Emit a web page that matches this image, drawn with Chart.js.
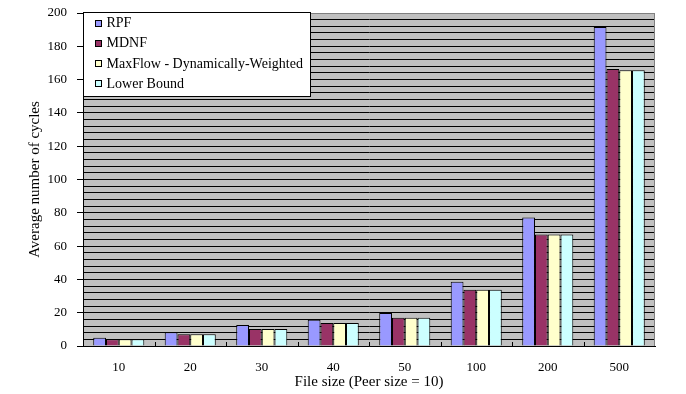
<!DOCTYPE html>
<html>
<head>
<meta charset="utf-8">
<title>Average number of cycles by file size</title>
<script src="https://cdn.jsdelivr.net/npm/chart.js@4/dist/chart.umd.min.js"></script>
<style>
  html, body { margin: 0; padding: 0; background: #ffffff; }
  #wrap { width: 686px; height: 394px; position: relative; }
</style>
</head>
<body>
<div id="wrap"><canvas id="chart" width="686" height="394"></canvas></div>
<script>
// File sizes on the category axis
const fileSizes = ['10', '20', '30', '40', '50', '100', '200', '500'];

// Average number of cycles per algorithm
const rpf        = [5.0, 8.2, 12.6, 15.8, 19.8, 38.6, 77.2, 191.6];
const mdnf       = [4.0, 7.0, 10.2, 13.8, 17.0, 33.8, 67.0, 166.4];
const maxFlowDW  = [4.0, 7.0, 10.2, 13.8, 17.0, 33.8, 67.0, 165.6];
const lowerBound = [4.0, 7.0, 10.2, 13.8, 17.0, 33.8, 67.0, 165.6];

const seriesNames = ['RPF', 'MDNF', 'MaxFlow - Dynamically-Weighted', 'Lower Bound'];
const seriesColors = ['#9999FF', '#993366', '#FFFFCC', '#CCFFFF'];

const yMin = 0, yMax = 200, yGridStep = 4, yLabelStep = 20;

const FONT = 'Liberation Serif, Times New Roman, serif';
Chart.defaults.font.family = FONT;
Chart.defaults.font.size = 13;
Chart.defaults.color = '#000000';

// Gray plot background and outer frame
const plotBackground = {
  id: 'plotBackground',
  beforeDraw(chart) {
    const { ctx, chartArea: a } = chart;
    ctx.save();
    ctx.fillStyle = '#C0C0C0';
    ctx.fillRect(a.left, a.top, a.right - a.left, a.bottom - a.top);
    ctx.restore();
  },
  afterDraw(chart) {
    const { ctx, chartArea: a } = chart;
    ctx.save();
    ctx.strokeStyle = '#808080';
    ctx.lineWidth = 1;
    ctx.beginPath();
    ctx.moveTo(Math.round(a.left) + 0.5, Math.round(a.top) + 0.5);
    ctx.lineTo(Math.round(a.right) - 0.5, Math.round(a.top) + 0.5);
    ctx.lineTo(Math.round(a.right) - 0.5, Math.round(a.bottom));
    ctx.stroke();
    ctx.restore();
  }
};

// Small inward tick marks between categories
const categoryTicks = {
  id: 'categoryTicks',
  afterDatasetsDraw(chart) {
    const { ctx, chartArea: a } = chart;
    const xs = chart.scales.x;
    const n = chart.data.labels.length;
    const half = (xs.getPixelForValue(1) - xs.getPixelForValue(0)) / 2;
    ctx.save();
    ctx.strokeStyle = '#000000';
    ctx.lineWidth = 1;
    for (let i = 1; i < n; i++) {
      const x = Math.round(xs.getPixelForValue(i) - half) + 0.5;
      ctx.beginPath();
      ctx.moveTo(x, a.bottom);
      ctx.lineTo(x, a.bottom - 4);
      ctx.stroke();
    }
    ctx.restore();
  }
};

// Boxed legend in the top-left corner of the plot
const boxedLegend = {
  id: 'boxedLegend',
  afterDraw(chart) {
    const { ctx, chartArea: a } = chart;
    const ds = chart.data.datasets;
    ctx.save();
    ctx.font = '14px ' + FONT;
    let maxW = 0;
    ds.forEach(d => { maxW = Math.max(maxW, ctx.measureText(d.label).width); });
    const x0 = Math.round(a.left) + 0.5;
    const y0 = Math.round(a.top) - 0.5;
    const w = Math.round(23 + maxW + 8);
    const rowH = 20.2;
    const h = Math.round(10 + rowH * (ds.length - 1) + 13);
    ctx.fillStyle = '#FFFFFF';
    ctx.fillRect(x0, y0, w, h);
    ctx.strokeStyle = '#000000';
    ctx.lineWidth = 1;
    ctx.strokeRect(x0, y0, w, h);
    ds.forEach((d, i) => {
      const cy = y0 + 10 + rowH * i;
      const mx = Math.round(x0 + 11) + 0.5;
      const my = Math.round(cy - 3) + 0.5;
      ctx.fillStyle = d.backgroundColor;
      ctx.fillRect(mx, my, 6, 6);
      ctx.strokeStyle = '#000000';
      ctx.strokeRect(mx, my, 6, 6);
      ctx.fillStyle = '#000000';
      ctx.textBaseline = 'middle';
      ctx.textAlign = 'left';
      ctx.fillText(d.label, x0 + 23, cy + 1);
    });
    ctx.restore();
  }
};

const seriesData = [rpf, mdnf, maxFlowDW, lowerBound];

new Chart(document.getElementById('chart'), {
  type: 'bar',
  data: {
    labels: fileSizes,
    datasets: seriesData.map((vals, i) => ({
      label: seriesNames[i],
      data: vals,
      backgroundColor: seriesColors[i],
      borderColor: '#000000',
      borderWidth: 1,
      borderSkipped: 'bottom',
      categoryPercentage: 0.714,
      barPercentage: 1.0
    }))
  },
  options: {
    responsive: false,
    animation: false,
    devicePixelRatio: 1,
    layout: { padding: { top: 13, right: 31, left: 0, bottom: 0 } },
    plugins: {
      legend: { display: false },
      tooltip: { enabled: false }
    },
    scales: {
      x: {
        grid: { display: true, drawOnChartArea: false, drawTicks: false },
        border: { display: true, color: '#000000', width: 1 },
        ticks: { padding: 14, font: { size: 13 }, maxRotation: 0, autoSkip: false },
        title: {
          display: true,
          text: 'File size (Peer size = 10)',
          font: { size: 15 },
          padding: { top: 0, bottom: 3 }
        },
        afterFit(scale) {
          scale.height = 48;
          scale.paddingLeft = 0;
          scale.paddingRight = 0;
        }
      },
      y: {
        min: yMin,
        max: yMax,
        grid: {
          color: c => (c.tick && c.tick.value === yMax) ? '#808080' : '#000000',
          lineWidth: 1,
          tickLength: 6,
          tickColor: c => (c.tick && c.tick.value % yLabelStep === 0) ? '#000000' : 'rgba(0,0,0,0)'
        },
        border: { display: true, color: '#000000', width: 1 },
        ticks: {
          stepSize: yGridStep,
          autoSkip: false,
          padding: 10,
          font: { size: 13 },
          callback: v => (v % yLabelStep === 0 ? String(v) : '')
        },
        title: {
          display: true,
          text: 'Average number of cycles',
          font: { size: 15 },
          padding: { top: 26, bottom: 0 }
        },
        afterFit(scale) {
          scale.width = 83;
          scale.paddingTop = 0;
          scale.paddingBottom = 0;
        }
      }
    }
  },
  plugins: [plotBackground, categoryTicks, boxedLegend]
});
</script>
</body>
</html>
